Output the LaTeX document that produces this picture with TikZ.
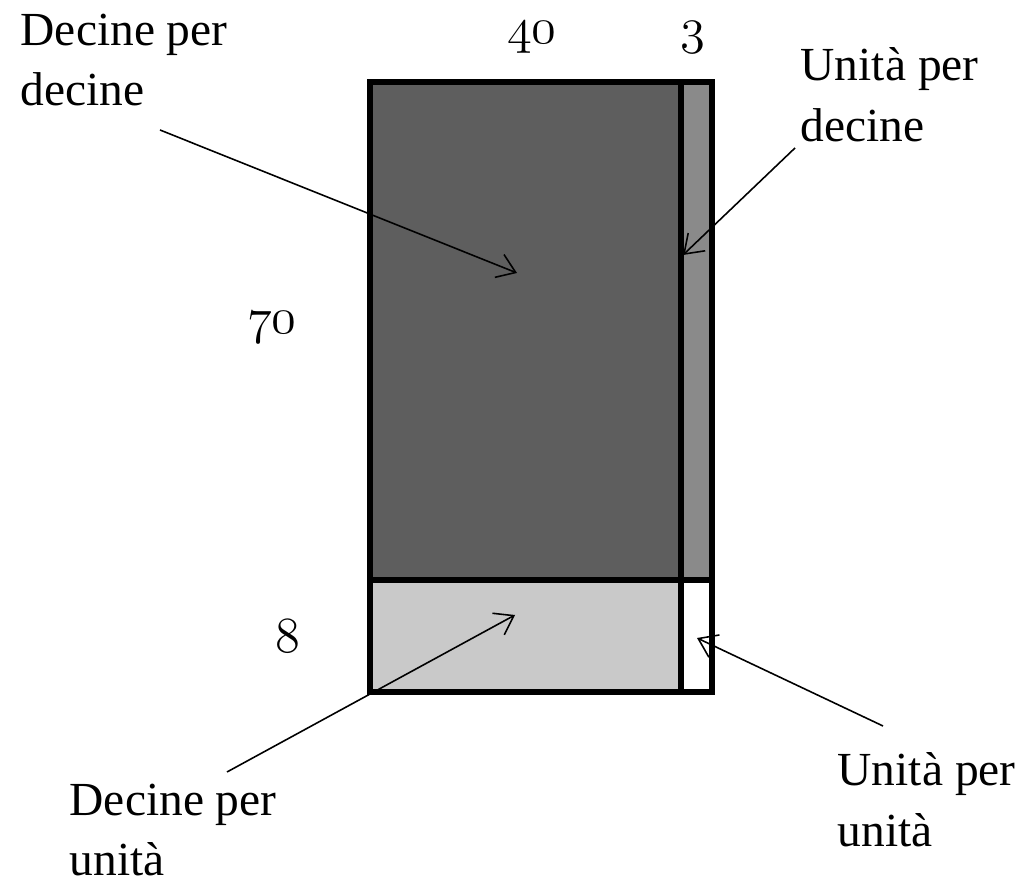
\documentclass[tikz,border=0pt]{standalone}
\usepackage{fontspec}
\setmainfont{Liberation Serif}
\usepackage{tikz}
\usetikzlibrary{arrows.meta}
\usepackage{tkz-euclide}
\usepackage{xcolor}

\definecolor{grigioscuro}{HTML}{5E5E5E}
\definecolor{grigiomedio}{HTML}{8A8A8A}
\definecolor{grigiochiaro}{HTML}{C9C9C9}

\tikzset{
  etichetta/.style={align=left, anchor=north west, inner sep=0pt,
    font=\fontsize{13.5}{17.2}\selectfont},
  numero/.style={anchor=base, inner sep=0pt, font=\fontsize{14}{16}\selectfont},
  freccia/.style={line width=0.45pt, -{Straight Barb[length=5pt,width=7pt]}},
  bordo/.style={line width=1.45pt, line join=miter}
}
\newcommand{\cifre}[1]{$\mathnormal{#1}$}

\begin{document}
\begin{tikzpicture}
            \useasboundingbox (0,0) rectangle (10.25,8.81);
            \tkzDefPoints{3.70/1.89/A, 7.12/1.89/B, 7.12/7.99/C, 3.70/7.99/D}
            \tkzDefPoints{6.81/1.89/F, 6.81/7.99/E, 3.70/3.01/G, 7.12/3.01/H, 6.81/3.01/M}
            % regioni del prodotto 73 x 43
            \fill[grigioscuro] (G) rectangle (E);
            \fill[grigiomedio] (M) rectangle (C);
            \fill[grigiochiaro] (A) rectangle (M);
            \fill[white] (F) rectangle (H);
            \draw[bordo] (A) rectangle (C);
            \draw[bordo] (E) -- (F);
            \draw[bordo] (G) -- (H);
            % etichette
            \node[etichetta] (dd) at (0.20,8.68) {Decine per\\decine};
            \node[etichetta] (ud) at (8.00,8.34) {Unità per\\decine};
            \node[etichetta] (du) at (0.69,0.98) {Decine per\\unità};
            \node[etichetta] (uu) at (8.37,1.29) {Unità per\\unità};
            \node[numero] (n40) at (5.32,8.37) {\cifre{40}};
            \node[numero] (n3) at (6.93,8.37) {\cifre{3}};
            \node[numero] (n70) at (2.72,5.47) {\cifre{70}};
            \node[numero] (n8) at (2.88,2.28) {\cifre{8}};
            % frecce
            \coordinate (Sdd) at (1.60,7.51);
            \coordinate (Tdd) at (5.17,6.08);
            \coordinate (Sud) at (7.95,7.33);
            \coordinate (Tud) at (6.83,6.26);
            \coordinate (Sdu) at (2.27,1.09);
            \coordinate (Tdu) at (5.15,2.66);
            \coordinate (Suu) at (8.83,1.55);
            \coordinate (Tuu) at (6.97,2.43);
            \draw[freccia] (Sdd) -- (Tdd);
            \draw[freccia] (Sud) -- (Tud);
            \draw[freccia] (Sdu) -- (Tdu);
            \draw[freccia] (Suu) -- (Tuu);
        \end{tikzpicture}
\end{document}
